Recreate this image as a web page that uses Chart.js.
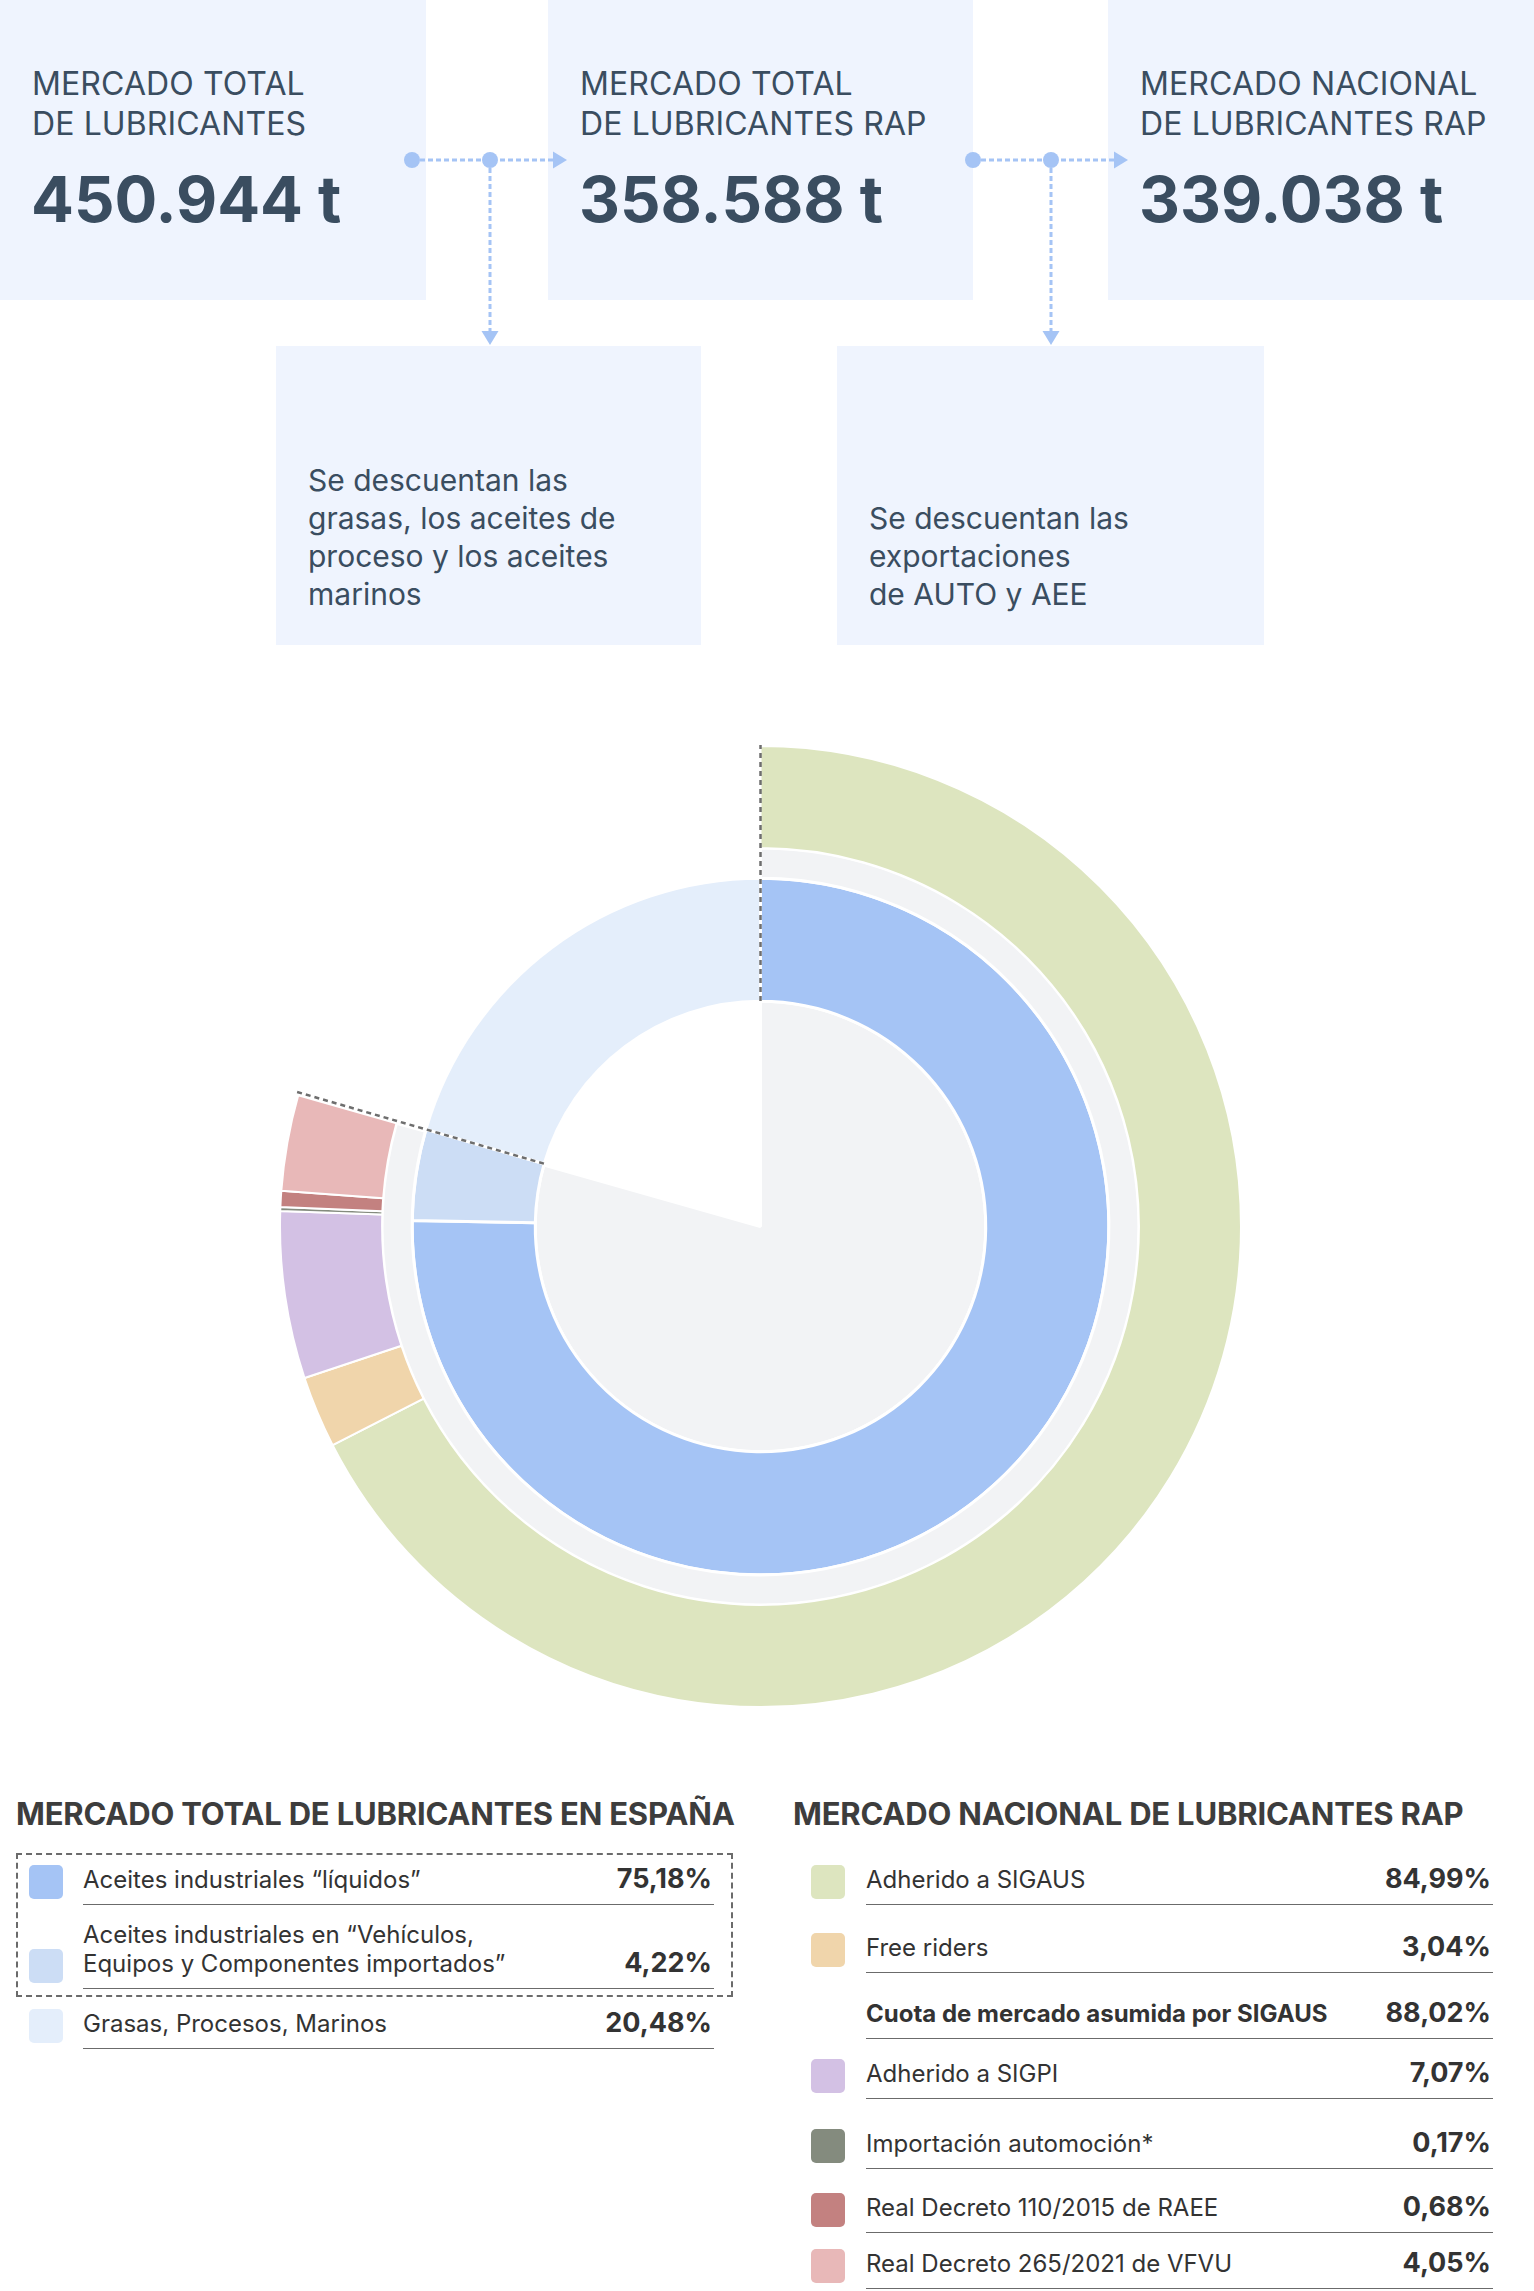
<!DOCTYPE html>
<html lang="es">
<head>
<meta charset="utf-8">
<script src="https://cdn.jsdelivr.net/npm/chart.js@4.4.1/dist/chart.umd.min.js"></script>
<style>
  html, body { margin: 0; padding: 0; background: #fff; }
  body { width: 1534px; height: 2291px; position: relative; overflow: hidden; font-family: Inter, 'Noto Sans', sans-serif; }
  .box { position: absolute; background: #eff4fe; }
  .box .t { position: absolute; left: 32px; top: 64px; font-size: 32px; line-height: 40px; color: #3a4d60; white-space: pre-line; letter-spacing: 0.1px; }
  .box .n { position: absolute; left: 31px; top: 166px; font-size: 63.5px; line-height: 66px; font-weight: 700; color: #3a4d60; }
  .note { position: absolute; background: #eff4fe; }
  .note .t { position: absolute; left: 32px; font-size: 30px; line-height: 38px; color: #3a4d60; white-space: pre-line; }
  #connectors { position: absolute; left: 0; top: 0; }
  #chartWrap { position: absolute; left: 279px; top: 745px; width: 963px; height: 963px; }
  .ltitle { position: absolute; top: 1796px; font-size: 31px; line-height: 36px; font-weight: 700; color: #3d3d3d; letter-spacing: -0.2px; }
  .row { position: absolute; display: flex; align-items: flex-end; }
  .sw { width: 34px; height: 34px; border-radius: 5px; flex: none; margin-bottom: 6px; }
  .line { flex: 1; border-bottom: 1.5px solid #6b6b6b; display: flex; justify-content: space-between; align-items: flex-end; padding-bottom: 10px; }
  .lab { font-size: 24px; line-height: 29px; color: #333; white-space: pre-line; }
  .lab.b { font-weight: 700; }
  .val { font-size: 27px; line-height: 30px; font-weight: 700; color: #333; padding-right: 2px; }
  #dashBox { position: absolute; left: 16px; top: 1853px; width: 713px; height: 140px; border: 2.5px dashed #6b6b6b; }
</style>
</head>
<body>

<div class="box" style="left:0;top:0;width:426px;height:300px"><div class="t" id="t0"></div><div class="n" id="n0"></div></div>
<div class="box" style="left:548px;top:0;width:425px;height:300px"><div class="t" id="t1"></div><div class="n" id="n1"></div></div>
<div class="box" style="left:1108px;top:0;width:426px;height:300px"><div class="t" id="t2"></div><div class="n" id="n2"></div></div>

<div class="note" style="left:276px;top:346px;width:425px;height:299px"><div class="t" id="d0"></div></div>
<div class="note" style="left:837px;top:346px;width:427px;height:299px"><div class="t" id="d1"></div></div>

<svg id="connectors" width="1534" height="700">
  <g fill="#a5c4f5" stroke="none">
    <circle cx="412" cy="160" r="8"/><circle cx="490" cy="160" r="8"/>
    <polygon points="553,151.5 553,168.5 567,160"/>
    <polygon points="481.5,331 498.5,331 490,345"/>
    <circle cx="973" cy="160" r="8"/><circle cx="1051" cy="160" r="8"/>
    <polygon points="1114,151.5 1114,168.5 1128,160"/>
    <polygon points="1042.5,331 1059.5,331 1051,345"/>
  </g>
  <g stroke="#a5c4f5" stroke-width="3" stroke-dasharray="5 3" fill="none">
    <line x1="420" y1="160" x2="553" y2="160"/>
    <line x1="490" y1="168" x2="490" y2="331"/>
    <line x1="981" y1="160" x2="1114" y2="160"/>
    <line x1="1051" y1="168" x2="1051" y2="331"/>
  </g>
</svg>

<div id="chartWrap"><canvas id="donut"></canvas></div>

<div class="ltitle" style="left:16px">MERCADO TOTAL DE LUBRICANTES EN ESPAÑA</div>
<div class="ltitle" style="left:793px">MERCADO NACIONAL DE LUBRICANTES RAP</div>
<div id="dashBox"></div>
<div id="legendLeft"></div>
<div id="legendRight"></div>

<script>
// headline figures (tonnes)
const summaryTitles = ['MERCADO TOTAL\nDE LUBRICANTES', 'MERCADO TOTAL\nDE LUBRICANTES RAP', 'MERCADO NACIONAL\nDE LUBRICANTES RAP'];
const summaryTonnes = [450944, 358588, 339038];
const deductionNotes = ['Se descuentan las\ngrasas, los aceites de\nproceso y los aceites\nmarinos', 'Se descuentan las\nexportaciones\nde AUTO y AEE'];

// middle ring: total market in Spain (%)
const totalLabels = ['Aceites industriales “líquidos”', 'Aceites industriales en “Vehículos,\nEquipos y Componentes importados”', 'Grasas, Procesos, Marinos'];
const totalShares = [75.18, 4.22, 20.48];
const totalColors = ['#a5c4f5', '#ccddf5', '#e4eefb'];

// outer ring: national RAP market (%)
const nationalLabels = ['Adherido a SIGAUS', 'Free riders', 'Adherido a SIGPI', 'Importación automoción*', 'Real Decreto 110/2015 de RAEE', 'Real Decreto 265/2021 de VFVU'];
const nationalShares = [84.99, 3.04, 7.07, 0.17, 0.68, 4.05];
const nationalColors = ['#dde5bf', '#f0d5ab', '#d3c1e4', '#848b7e', '#c38180', '#e8b8b8'];
const sigausQuotaLabel = 'Cuota de mercado asumida por SIGAUS';
const sigausQuota = 88.02;

const fmtPct = v => v.toFixed(2).replace('.', ',') + '%';
const fmtTonnes = v => String(v).replace(/\B(?=(\d{3})+(?!\d))/g, '.') + ' t';

summaryTitles.forEach((t, i) => {
    document.getElementById('t' + i).textContent = t;
    document.getElementById('n' + i).textContent = fmtTonnes(summaryTonnes[i]);
});
document.getElementById('d0').textContent = deductionNotes[0];
document.getElementById('d0').style.top = '115px';
document.getElementById('d1').textContent = deductionNotes[1];
document.getElementById('d1').style.top = '153px';

// share of the circle covered by the RAP market
const rapShare = totalShares[0] + totalShares[1];
const rapSweep = 360 * rapShare / 100;

const dashedCuts = {
    id: 'dashedCuts',
    afterDatasetsDraw(chart) {
        const mid = chart.getDatasetMeta(2).data;
        const outer = chart.getDatasetMeta(0).data[0];
        const ctx = chart.ctx;
        const cx = mid[0].x, cy = mid[0].y;
        const r0 = mid[0].innerRadius, r1 = outer.outerRadius + 2;
        ctx.save();
        ctx.strokeStyle = '#6e6e6e';
        ctx.lineWidth = 2.5;
        ctx.setLineDash([5, 4]);
        [mid[0].startAngle, mid[1].endAngle].forEach(a => {
            ctx.beginPath();
            ctx.moveTo(cx + Math.cos(a) * r1, cy + Math.sin(a) * r1);
            ctx.lineTo(cx + Math.cos(a) * r0, cy + Math.sin(a) * r0);
            ctx.stroke();
        });
        ctx.restore();
    }
};

new Chart(document.getElementById('donut'), {
    type: 'doughnut',
    data: {
        labels: nationalLabels,
        datasets: [
            { data: nationalShares, backgroundColor: nationalColors, circumference: rapSweep, weight: 102, borderWidth: 2 },
            { data: [rapShare], backgroundColor: ['#f2f3f5'], circumference: rapSweep, weight: 30 },
            { data: totalShares, backgroundColor: totalColors, weight: 123 },
            { data: [rapShare], backgroundColor: ['#f2f3f5'], circumference: rapSweep, weight: 225 }
        ]
    },
    options: {
        responsive: true,
        maintainAspectRatio: false,
        animation: false,
        cutout: 0,
        layout: { padding: 0 },
        elements: { arc: { borderColor: '#ffffff', borderWidth: 3 } },
        plugins: { legend: { display: false }, tooltip: { enabled: false } }
    },
    plugins: [dashedCuts]
});

function addRow(parent, left, width, bottom, height, color, label, value, bold) {
    const row = document.createElement('div');
    row.className = 'row';
    row.style.left = left + 'px';
    row.style.width = width + 'px';
    row.style.top = (bottom - height) + 'px';
    row.style.height = height + 'px';
    row.innerHTML = `
        <span class="sw" style="background:${color || 'transparent'}"></span>
        <div class="line" style="margin-left:${left < 500 ? 20 : 21}px">
            <span class="lab${bold ? ' b' : ''}">${label}</span>
            <span class="val">${value}</span>
        </div>`;
    parent.appendChild(row);
}

// row underline positions
const leftRowBottoms = [1905, 1989, 2049];
const leftRowHeights = [50, 70, 50];
const rightRowBottoms = [1905, 1973, 2039, 2099, 2169, 2233, 2289];

const legendLeft = document.getElementById('legendLeft');
totalLabels.forEach((l, i) => addRow(legendLeft, 29, 685, leftRowBottoms[i], leftRowHeights[i], totalColors[i], l, fmtPct(totalShares[i])));

const legendRight = document.getElementById('legendRight');
const rightRows = [
    [nationalColors[0], nationalLabels[0], nationalShares[0], false],
    [nationalColors[1], nationalLabels[1], nationalShares[1], false],
    [null, sigausQuotaLabel, sigausQuota, true],
    [nationalColors[2], nationalLabels[2], nationalShares[2], false],
    [nationalColors[3], nationalLabels[3], nationalShares[3], false],
    [nationalColors[4], nationalLabels[4], nationalShares[4], false],
    [nationalColors[5], nationalLabels[5], nationalShares[5], false]
];
rightRows.forEach((r, i) => addRow(legendRight, 811, 682, rightRowBottoms[i], 50, r[0], r[1], fmtPct(r[2]), r[3]));
</script>
</body>
</html>
